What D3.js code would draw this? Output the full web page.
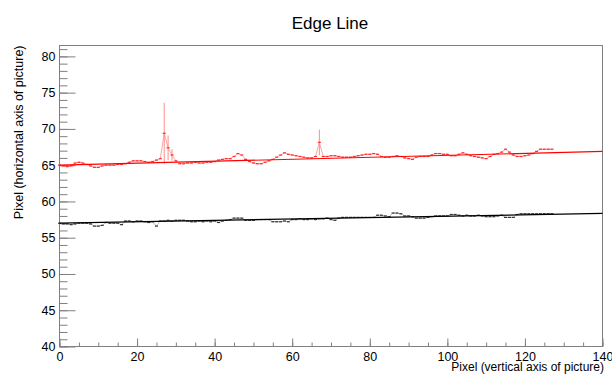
<!DOCTYPE html>
<html>
<head>
<meta charset="utf-8">
<script src="https://cdn.jsdelivr.net/npm/d3@7"></script>
<style>
  body { margin: 0; background: #fff; }
  text { font-family: "Liberation Sans", Arial, sans-serif; }
</style>
</head>
<body>
<div id="chart"></div>
<script>
// Edge Line - two edges with linear fits

// x positions (pixel along vertical axis of picture)
var xPix = d3.range(0, 128);

// upper edge (red)
var redEdge = [
  65.0, 64.9, 64.8, 64.9, 65.3, 65.4, 65.3, 65.1, 64.9, 64.7,
  64.7, 64.9, 65.0, 65.0, 65.0, 65.1, 65.1, 65.2, 65.4, 65.6,
  65.6, 65.6, 65.5, 65.4, 65.5, 65.7, 65.9, 69.4, 67.4, 66.4,
  65.6, 65.2, 65.2, 65.3, 65.3, 65.4, 65.3, 65.3, 65.4, 65.4,
  65.5, 65.7, 65.8, 65.9, 65.9, 66.2, 66.6, 66.4, 65.8, 65.5,
  65.3, 65.2, 65.2, 65.4, 65.6, 65.8, 66.1, 66.4, 66.7, 66.5,
  66.4, 66.3, 66.2, 66.1, 66.0, 66.0, 66.2, 68.15, 66.2, 66.2,
  66.3, 66.3, 66.2, 66.1, 66.1, 66.1, 66.2, 66.3, 66.4, 66.5,
  66.5, 66.6, 66.5, 66.2, 66.1, 66.1, 66.2, 66.3, 66.2, 66.0,
  65.9, 65.8, 66.1, 66.2, 66.2, 66.2, 66.4, 66.6, 66.6, 66.5,
  66.5, 66.3, 66.3, 66.5, 66.7, 66.5, 66.3, 66.2, 66.1, 66.0,
  65.9, 66.2, 66.5, 66.6, 66.8, 67.2, 66.8, 66.4, 66.2, 66.2,
  66.3, 66.4, 66.6, 66.9, 67.2, 67.2, 67.2, 67.2
];

// big error bars on the red edge
var redErrX = [27, 28, 29, 67];
var redErr = [4.2, 1.7, 0.8, 1.75];

// lower edge (black)
var blackEdge = [
  57.0, 56.9, 56.9, 56.8, 56.9, 57.0, 57.0, 57.0, 56.9, 56.6,
  56.6, 56.7, 57.1, 57.0, 57.0, 57.0, 56.8, 57.3, 57.3, 57.2,
  57.3, 57.3, 57.2, 57.1, 57.2, 56.6, 57.3, 57.3, 57.4, 57.3,
  57.4, 57.4, 57.4, 57.3, 57.2, 57.2, 57.3, 57.2, 57.3, 57.2,
  57.3, 57.1, 57.3, 57.4, 57.5, 57.7, 57.7, 57.7, 57.4, 57.4,
  57.4, 57.5, 57.5, 57.5, 57.5, 57.2, 57.2, 57.2, 57.3, 57.2,
  57.5, 57.5, 57.6, 57.5, 57.5, 57.6, 57.5, 57.6, 57.6, 57.7,
  57.5, 57.4, 57.7, 57.8, 57.8, 57.8, 57.8, 57.8, 57.8, 57.8,
  57.8, 57.8, 58.1, 58.1, 58.0, 57.9, 58.4, 58.4, 58.3, 58.0,
  58.0, 57.9, 57.7, 57.7, 57.7, 57.8, 57.9, 58.0, 58.0, 58.0,
  58.0, 58.2, 58.2, 58.1, 58.0, 58.1, 58.0, 58.0, 58.1, 58.0,
  57.9, 57.9, 57.9, 58.0, 58.1, 57.8, 57.8, 57.8, 58.2, 58.3,
  58.3, 58.3, 58.3, 58.3, 58.3, 58.3, 58.3, 58.3
];

// linear fits
var fitX = [0, 140];
var redFit = [65.0, 66.9];
var blackFit = [57.0, 58.35];

// axis ticks
var xMajor = [0, 20, 40, 60, 80, 100, 120, 140];
var xMinor = d3.range(0, 141, 5);
var yMajor = [40, 45, 50, 55, 60, 65, 70, 75, 80];
var yMinor = d3.range(40, 82, 1);

var width = 612;
var height = 374;
var frameL = 59.5, frameR = 602.5, frameT = 45.5, frameB = 346.5;

var svg = d3
  .select("#chart")
  .append("svg")
  .attr("width", width)
  .attr("height", height);

var xScale = d3.scaleLinear().domain([0, 140]).range([frameL, frameR]);
var yScale = d3.scaleLinear().domain([40, 81.5]).range([frameB, frameT]);

// frame
svg
  .append("rect")
  .attr("x", frameL)
  .attr("y", frameT)
  .attr("width", frameR - frameL)
  .attr("height", frameB - frameT)
  .attr("fill", "none")
  .attr("stroke", "#808080");

// Y axis (ticks inside)
svg
  .append("g")
  .attr("transform", "translate(" + frameL + ",0)")
  .call(d3.axisLeft(yScale).tickValues(yMinor).tickSizeInner(-8).tickSizeOuter(0).tickFormat(""));
svg
  .append("g")
  .attr("transform", "translate(" + frameL + ",0)")
  .call(d3.axisLeft(yScale).tickValues(yMajor).tickSizeInner(-16).tickSizeOuter(0).tickPadding(4));

// X axis
svg
  .append("g")
  .attr("transform", "translate(0," + frameB + ")")
  .call(d3.axisBottom(xScale).tickValues(xMinor).tickSizeInner(-4).tickSizeOuter(0).tickFormat(""));
svg
  .append("g")
  .attr("transform", "translate(0," + frameB + ")")
  .call(d3.axisBottom(xScale).tickValues(xMajor).tickSizeInner(-8).tickSizeOuter(0).tickPadding(6));

svg.selectAll(".domain").remove();
svg.selectAll(".tick line").attr("stroke", "#808080");
svg
  .selectAll(".tick text")
  .attr("fill", "#000")
  .style("font-size", "12.5px");

// titles
svg
  .append("text")
  .attr("x", 330)
  .attr("y", 29)
  .attr("text-anchor", "middle")
  .style("font-size", "17px")
  .text("Edge Line");

svg
  .append("text")
  .attr("x", 604)
  .attr("y", 371)
  .attr("text-anchor", "end")
  .style("font-size", "12px")
  .text("Pixel (vertical axis of picture)");

svg
  .append("text")
  .attr("transform", "translate(23," + frameT + ")rotate(-90)")
  .attr("text-anchor", "end")
  .style("font-size", "12.5px")
  .text("Pixel (horizontal axis of picture)");

// draw one edge series
function drawEdge(values, lineColor, markColor, errX, errV) {
  var pts = xPix.map(function(x, i) {
    return { x: x, y: values[i] };
  });

  var line = d3
    .line()
    .x(function(d) { return xScale(d.x); })
    .y(function(d) { return yScale(d.y); });

  svg
    .append("path")
    .datum(pts)
    .attr("d", line)
    .attr("fill", "none")
    .attr("stroke", lineColor)
    .attr("stroke-width", 0.8);

  if (errX) {
    errX.forEach(function(ex, k) {
      var v = values[ex];
      svg
        .append("line")
        .attr("x1", xScale(ex))
        .attr("x2", xScale(ex))
        .attr("y1", yScale(v - errV[k]))
        .attr("y2", yScale(v + errV[k]))
        .attr("stroke", lineColor)
        .attr("stroke-width", 1);
    });
  }

  svg
    .append("g")
    .selectAll("rect")
    .data(pts)
    .enter()
    .append("rect")
    .attr("x", function(d) { return xScale(d.x) - 1.5; })
    .attr("y", function(d) { return yScale(d.y) - 0.6; })
    .attr("width", 3)
    .attr("height", 1.2)
    .attr("fill", markColor);
}

function drawFit(values, color) {
  svg
    .append("line")
    .attr("x1", xScale(fitX[0]))
    .attr("x2", xScale(fitX[1]))
    .attr("y1", yScale(values[0]))
    .attr("y2", yScale(values[1]))
    .attr("stroke", color)
    .attr("stroke-width", 1.2);
}

drawEdge(blackEdge, "#a8a8a8", "#333", null, null);
drawFit(blackFit, "#000");

drawEdge(redEdge, "#ff8c8c", "#ff2a2a", redErrX, redErr);
drawFit(redFit, "#ff0000");
</script>
</body>
</html>
